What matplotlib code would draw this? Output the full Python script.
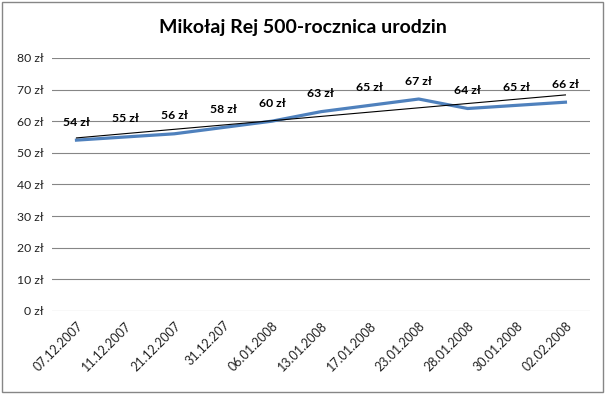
import numpy as np
import matplotlib
matplotlib.use("Agg")
import matplotlib.pyplot as plt
from matplotlib.patches import Rectangle

# data
dates = ["07.12.2007", "11.12.2007", "21.12.2007", "31.12.207", "06.01.2008",
         "13.01.2008", "17.01.2008", "23.01.2008", "28.01.2008", "30.01.2008",
         "02.02.2008"]
prices = [54, 55, 56, 58, 60, 63, 65, 67, 64, 65, 66]
trend_ends = [54.7, 68.3]
yticks = [0, 10, 20, 30, 40, 50, 60, 70, 80]

plt.rcParams['font.family'] = ['Lato', 'DejaVu Sans']

fig = plt.figure(figsize=(6.05, 3.94), dpi=100)
ax = fig.add_axes([0.086, 0.211, 0.889, 0.642])

x = np.arange(len(dates))
ax.plot(x, prices, color='#4F81BD', lw=2.3, solid_joinstyle='round', zorder=3)
ax.plot([x[0], x[-1]], trend_ends, color='black', lw=0.8, zorder=4)

for xi, v in zip(x, prices):
    ax.annotate(f"{v} zł", (xi, v), xytext=(0, 9), textcoords='offset points',
                ha='center', va='bottom', fontsize=8.8, fontweight='bold', color='black')

ax.set_xlim(-0.5, len(dates) - 0.5)
ax.set_ylim(0, 80)
ax.set_yticks(yticks)
ax.set_yticklabels([f"{t} zł" for t in yticks], fontsize=8.8, color='#222222')
ax.set_xticks(x)
ax.set_xticklabels(dates, rotation=45, ha='right', rotation_mode='anchor',
                   fontsize=9, color='#222222')
ax.tick_params(length=0, pad=6)
ax.grid(axis='y', color='#868686', lw=0.8)
ax.set_axisbelow(True)
for s in ax.spines.values():
    s.set_visible(False)

fig.text(0.5, 0.93, "Mikołaj Rej 500-rocznica urodzin", ha='center', va='center',
         fontsize=14, fontweight='bold')
fig.patches.append(Rectangle((0.003, 0.004), 0.994, 0.992, transform=fig.transFigure,
                             fill=False, edgecolor='#868686', lw=1))

fig.savefig("out.png", dpi=100)
